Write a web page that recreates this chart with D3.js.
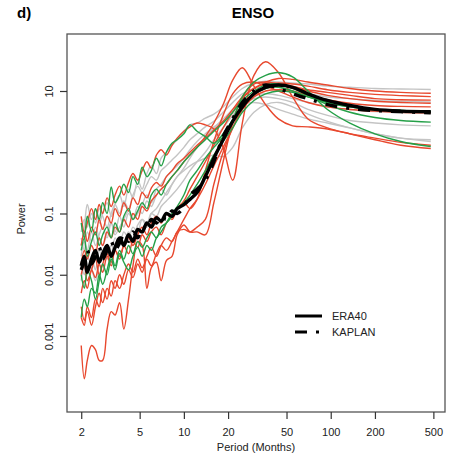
<!DOCTYPE html>
<html>
<head>
<meta charset="utf-8">
<script src="https://cdn.jsdelivr.net/npm/d3@7"></script>
<style>
  body { margin: 0; background: #fff; }
  text { font-family: "Liberation Sans", Arial, sans-serif; }
</style>
</head>
<body>
<div id="chart-area"></div>
<script>
// Period grid (months) shared by every spectrum
const periods = [2, 2.1, 2.2, 2.35, 2.5, 2.65, 2.8, 3, 3.2, 3.4, 3.65, 3.9, 4.2, 4.5, 4.85, 5.2, 5.6, 6, 6.5, 7,
  7.6, 8.3, 9, 10, 11, 12.3, 14, 16, 18.5, 21.5, 25, 30, 36, 44, 55, 70, 95, 135, 200, 300, 480];

// model spectra, grey
const grey1 = [0.03, 0.06, 0.14, 0.08, 0.12, 0.07, 0.1, 0.15, 0.09, 0.14, 0.2, 0.13, 0.25, 0.18, 0.35, 0.25, 0.45, 0.6, 0.45, 0.8,
  1.0, 1.3, 1.6, 2.2, 2.8, 3.0, 3.6, 4.2, 5.5, 8, 11, 13.5, 14.5, 14, 13.5, 13, 12, 11.5, 11, 10.8, 10.6];
const grey2 = [0.02, 0.035, 0.025, 0.05, 0.03, 0.045, 0.06, 0.04, 0.07, 0.05, 0.09, 0.06, 0.1, 0.08, 0.13, 0.1, 0.16, 0.13, 0.2, 0.25,
  0.2, 0.3, 0.4, 0.55, 0.8, 1.2, 1.8, 2.5, 3.5, 5, 7, 8.5, 9, 8.5, 7.5, 6.5, 5.5, 5, 4.6, 4.4, 4.3];
const grey3 = [0.008, 0.015, 0.01, 0.02, 0.012, 0.025, 0.018, 0.03, 0.022, 0.04, 0.03, 0.05, 0.04, 0.06, 0.05, 0.08, 0.07, 0.1, 0.09, 0.13,
  0.16, 0.2, 0.25, 0.35, 0.5, 0.7, 1.0, 1.6, 2.5, 4.0, 6.0, 7.5, 8, 7.5, 6.5, 5, 4, 3.3, 3, 2.8, 2.7];
const grey4 = [0.04, 0.025, 0.05, 0.035, 0.06, 0.04, 0.03, 0.05, 0.07, 0.045, 0.06, 0.08, 0.11, 0.08, 0.1, 0.14, 0.2, 0.15, 0.25, 0.3,
  0.4, 0.5, 0.6, 0.8, 1.1, 1.5, 2.0, 2.6, 3.2, 4.5, 6, 6.5, 6, 5, 4.2, 3.5, 3, 2.5, 2.0, 1.7, 1.6];
const grey5 = [0.015, 0.01, 0.02, 0.013, 0.008, 0.015, 0.025, 0.018, 0.03, 0.025, 0.04, 0.035, 0.05, 0.04, 0.065, 0.08, 0.06, 0.1, 0.12, 0.16,
  0.22, 0.3, 0.4, 0.5, 0.6, 0.7, 0.8, 0.9, 0.85, 1.2, 2.5, 4.5, 6, 6.5, 5.5, 4.2, 3.2, 2.5, 2.0, 1.7, 1.5];
const grey6 = [0.05, 0.08, 0.06, 0.1, 0.07, 0.12, 0.09, 0.06, 0.1, 0.14, 0.1, 0.16, 0.12, 0.2, 0.28, 0.22, 0.3, 0.4, 0.35, 0.5,
  0.6, 0.75, 0.9, 1.2, 1.6, 2.0, 2.6, 3.2, 4.5, 6.5, 9, 11, 12, 11.5, 10, 9, 8, 7.5, 7, 6.8, 6.6];

// model spectra, red
const red1 = [0.09, 0.05, 0.07, 0.12, 0.08, 0.14, 0.1, 0.18, 0.13, 0.2, 0.28, 0.2, 0.32, 0.45, 0.35, 0.5, 0.7, 0.55, 0.9, 1.1,
  0.9, 1.3, 1.7, 2.2, 2.6, 3.0, 2.8, 2.4, 1.2, 0.35, 3.0, 18, 30, 20, 8, 3.5, 2.5, 2.0, 1.6, 1.3, 1.15];
const red2 = [0.015, 0.025, 0.018, 0.03, 0.022, 0.04, 0.03, 0.05, 0.04, 0.06, 0.05, 0.08, 0.06, 0.1, 0.08, 0.13, 0.11, 0.16, 0.2, 0.25,
  0.3, 0.4, 0.5, 0.7, 0.9, 1.2, 1.8, 3.0, 6, 15, 24, 12, 6, 3.5, 2.7, 2.6, 2.4, 2.0, 1.7, 1.45, 1.3];
const red3 = [0.03, 0.05, 0.035, 0.06, 0.045, 0.08, 0.055, 0.09, 0.07, 0.12, 0.09, 0.15, 0.11, 0.18, 0.14, 0.22, 0.18, 0.26, 0.32, 0.28,
  0.4, 0.5, 0.65, 0.8, 1.0, 1.3, 1.7, 2.3, 3.2, 5, 8, 11, 14, 16, 15.5, 14, 12.5, 11, 10, 9.5, 9.2];
const red4 = [0.005, 0.008, 0.006, 0.012, 0.009, 0.015, 0.011, 0.02, 0.014, 0.025, 0.018, 0.03, 0.022, 0.035, 0.028, 0.045, 0.035, 0.05, 0.06, 0.045,
  0.07, 0.09, 0.12, 0.16, 0.25, 0.4, 0.7, 1.3, 2.5, 4.5, 7.5, 11, 13, 13.5, 13, 12, 10.5, 9.5, 8.8, 8.4, 8.1];
const red5 = [0.0007, 0.0002, 0.0004, 0.0007, 0.0006, 0.0004, 0.0004, 0.0013, 0.0025, 0.0022, 0.0035, 0.0013, 0.004, 0.014, 0.035, 0.03, 0.006, 0.013, 0.016, 0.008,
  0.017, 0.02, 0.045, 0.065, 0.05, 0.05, 0.045, 0.15, 0.7, 3, 8, 13, 14, 13, 12, 10.5, 9.5, 8.5, 7.5, 7.2, 7.1];
const red6 = [0.002, 0.0015, 0.003, 0.002, 0.004, 0.003, 0.006, 0.004, 0.008, 0.006, 0.01, 0.007, 0.012, 0.009, 0.015, 0.011, 0.018, 0.014, 0.022, 0.03,
  0.025, 0.035, 0.05, 0.08, 0.12, 0.17, 0.3, 0.6, 1.2, 2.5, 5, 8.5, 11, 12, 11.5, 10, 8.5, 7.5, 6.8, 6.5, 6.3];
const red7 = [0.01, 0.015, 0.008, 0.012, 0.018, 0.01, 0.015, 0.022, 0.016, 0.025, 0.02, 0.03, 0.04, 0.03, 0.045, 0.06, 0.045, 0.07, 0.09, 0.07,
  0.1, 0.08, 0.12, 0.15, 0.12, 0.17, 0.5, 1.5, 4, 9, 13, 14, 12, 10, 8, 6.5, 5.5, 5, 4.7, 4.5, 4.4];
const red8 = [0.003, 0.0018, 0.0025, 0.0015, 0.003, 0.005, 0.0035, 0.006, 0.0045, 0.008, 0.006, 0.01, 0.015, 0.011, 0.018, 0.013, 0.02, 0.028, 0.02, 0.03,
  0.04, 0.035, 0.05, 0.055, 0.05, 0.06, 0.08, 0.3, 1.0, 2.5, 5, 8, 10, 10.5, 10, 8.5, 7.2, 6.3, 5.8, 5.6, 5.5];

// model spectra, green
const green1 = [0.07, 0.04, 0.09, 0.05, 0.12, 0.08, 0.15, 0.1, 0.27, 0.15, 0.2, 0.3, 0.22, 0.4, 0.3, 0.57, 0.4, 0.5, 0.8, 0.6,
  1.0, 1.4, 1.6, 2.0, 2.8, 2.2, 1.8, 1.4, 2.0, 3.4, 8, 14, 18, 20, 17, 10, 5, 3, 2, 1.5, 1.24];
const green2 = [0.025, 0.04, 0.02, 0.035, 0.05, 0.03, 0.045, 0.06, 0.04, 0.07, 0.05, 0.09, 0.12, 0.08, 0.11, 0.15, 0.12, 0.2, 0.25, 0.2,
  0.3, 0.4, 0.5, 0.7, 0.9, 1.2, 1.6, 2.2, 3.0, 4.5, 7, 10, 12.5, 13, 11, 8.5, 6, 4.5, 3.7, 3.3, 3.1];
const green3 = [0.002, 0.004, 0.003, 0.006, 0.005, 0.01, 0.007, 0.012, 0.02, 0.014, 0.025, 0.018, 0.03, 0.022, 0.035, 0.028, 0.04, 0.05, 0.04, 0.06,
  0.07, 0.09, 0.12, 0.15, 0.2, 0.3, 0.5, 0.9, 1.5, 2.5, 4.5, 7, 9, 10, 9.5, 8, 6.5, 5.5, 5, 4.8, 4.7];
const green4 = [0.01, 0.006, 0.012, 0.008, 0.004, 0.008, 0.015, 0.01, 0.018, 0.012, 0.022, 0.016, 0.012, 0.02, 0.028, 0.02, 0.03, 0.025, 0.04, 0.05,
  0.07, 0.1, 0.13, 0.2, 0.35, 0.5, 0.8, 1.2, 1.8, 3.2, 6, 9, 11, 11.5, 10, 8, 6.5, 5.5, 5, 4.8, 4.6];

// observations
const era40 = [0.014, 0.02, 0.011, 0.018, 0.025, 0.016, 0.022, 0.03, 0.02, 0.028, 0.04, 0.03, 0.045, 0.035, 0.055, 0.05, 0.07, 0.06, 0.085, 0.075,
  0.1, 0.09, 0.12, 0.14, 0.17, 0.22, 0.4, 0.8, 1.6, 3.2, 5.5, 9, 11.5, 12.5, 11.5, 9, 7, 5.8, 5, 4.7, 4.6];
const kaplan = [0.012, 0.017, 0.025, 0.015, 0.02, 0.028, 0.018, 0.025, 0.035, 0.025, 0.033, 0.045, 0.035, 0.05, 0.04, 0.06, 0.055, 0.08, 0.07, 0.09,
  0.08, 0.11, 0.1, 0.13, 0.2, 0.25, 0.35, 0.7, 1.8, 3.5, 6.5, 10, 12.5, 11, 9, 7.5, 6, 5.2, 4.8, 4.6, 4.4];

const xTicks = [2, 5, 10, 20, 50, 100, 200, 500];
const yTicks = [0.001, 0.01, 0.1, 1, 10];
const legendLabels = ["ERA40", "KAPLAN"];

const greyRuns = [grey1, grey2, grey3, grey4, grey5, grey6];
const redRuns = [red1, red2, red3, red4, red5, red6, red7, red8];
const greenRuns = [green1, green2, green3, green4];

// plot box in page pixels
const box = { left: 67, right: 445, top: 34, bottom: 412 };

const svg = d3.select("#chart-area")
  .append("svg")
    .attr("width", 451)
    .attr("height", 464);

const x = d3.scaleLog()
  .domain([1.6, 600])
  .range([box.left, box.right]);

const y = d3.scaleLog()
  .domain([Math.pow(10, -4.241), Math.pow(10, 1.9306)])
  .range([box.bottom, box.top]);

const line = d3.line()
  .x((d, i) => x(periods[i]))
  .y(d => y(d))
  .curve(d3.curveCatmullRom.alpha(0.5));

const drawRuns = (runs, colour) => {
  svg.append("g")
    .selectAll("path")
    .data(runs)
    .join("path")
      .attr("d", line)
      .attr("fill", "none")
      .attr("stroke", colour)
      .attr("stroke-width", 1.4);
};

drawRuns(greyRuns, "#c4c4c4");
drawRuns(redRuns, "#e8482e");
drawRuns(greenRuns, "#25a048");

svg.append("path")
  .attr("d", line(era40))
  .attr("fill", "none")
  .attr("stroke", "#000")
  .attr("stroke-width", 3.4);

svg.append("path")
  .attr("d", line(kaplan))
  .attr("fill", "none")
  .attr("stroke", "#000")
  .attr("stroke-width", 3.4)
  .attr("stroke-dasharray", "12,9,3,9");

// box
svg.append("rect")
  .attr("x", box.left)
  .attr("y", box.top)
  .attr("width", box.right - box.left)
  .attr("height", box.bottom - box.top)
  .attr("fill", "none")
  .attr("stroke", "#555")
  .attr("stroke-width", 1.3);

// axes
const xAxis = d3.axisBottom(x)
  .tickValues(xTicks)
  .tickFormat(d3.format("d"))
  .tickSize(7)
  .tickPadding(9);

svg.append("g")
  .attr("transform", "translate(0," + box.bottom + ")")
  .call(xAxis)
  .call(g => g.select(".domain").remove())
  .call(g => g.selectAll("line").attr("stroke", "#333").attr("stroke-width", 1.2))
  .call(g => g.selectAll("text").attr("font-size", 11).attr("fill", "#222")
    .attr("font-family", "Liberation Sans, Arial, sans-serif"));

const yAxis = d3.axisLeft(y)
  .tickValues(yTicks)
  .tickFormat(d => d >= 1 ? d3.format("d")(d) : String(d))
  .tickSize(7);

svg.append("g")
  .attr("transform", "translate(" + box.left + ",0)")
  .call(yAxis)
  .call(g => g.select(".domain").remove())
  .call(g => g.selectAll("line").attr("stroke", "#333").attr("stroke-width", 1.2))
  .call(g => g.selectAll("text")
    .attr("font-size", 11)
    .attr("fill", "#222")
    .attr("font-family", "Liberation Sans, Arial, sans-serif")
    .attr("x", null)
    .attr("dy", null)
    .attr("text-anchor", "middle")
    .attr("transform", "translate(-14,0) rotate(-90)"));

// titles
svg.append("text")
  .attr("x", 253)
  .attr("y", 18)
  .attr("text-anchor", "middle")
  .attr("font-size", 15)
  .attr("font-weight", "bold")
  .text("ENSO");

svg.append("text")
  .attr("x", 17)
  .attr("y", 18)
  .attr("font-size", 15)
  .attr("font-weight", "bold")
  .text("d)");

svg.append("text")
  .attr("x", (box.left + box.right) / 2)
  .attr("y", 451)
  .attr("text-anchor", "middle")
  .attr("font-size", 11)
  .attr("fill", "#222")
  .text("Period (Months)");

svg.append("text")
  .attr("transform", "translate(25," + ((box.top + box.bottom) / 2 - 4) + ") rotate(-90)")
  .attr("text-anchor", "middle")
  .attr("font-size", 11)
  .attr("fill", "#222")
  .text("Power");

// legend
const legend = svg.append("g");
legendLabels.forEach((label, i) => {
  const ly = 316 + i * 16;
  legend.append("line")
    .attr("x1", 295).attr("x2", 322)
    .attr("y1", ly).attr("y2", ly)
    .attr("stroke", "#000")
    .attr("stroke-width", 3)
    .attr("stroke-dasharray", i === 1 ? "12,9,3,9" : null);
  legend.append("text")
    .attr("x", 332)
    .attr("y", ly + 4)
    .attr("font-size", 11)
    .attr("fill", "#222")
    .text(label);
});
</script>
</body>
</html>
